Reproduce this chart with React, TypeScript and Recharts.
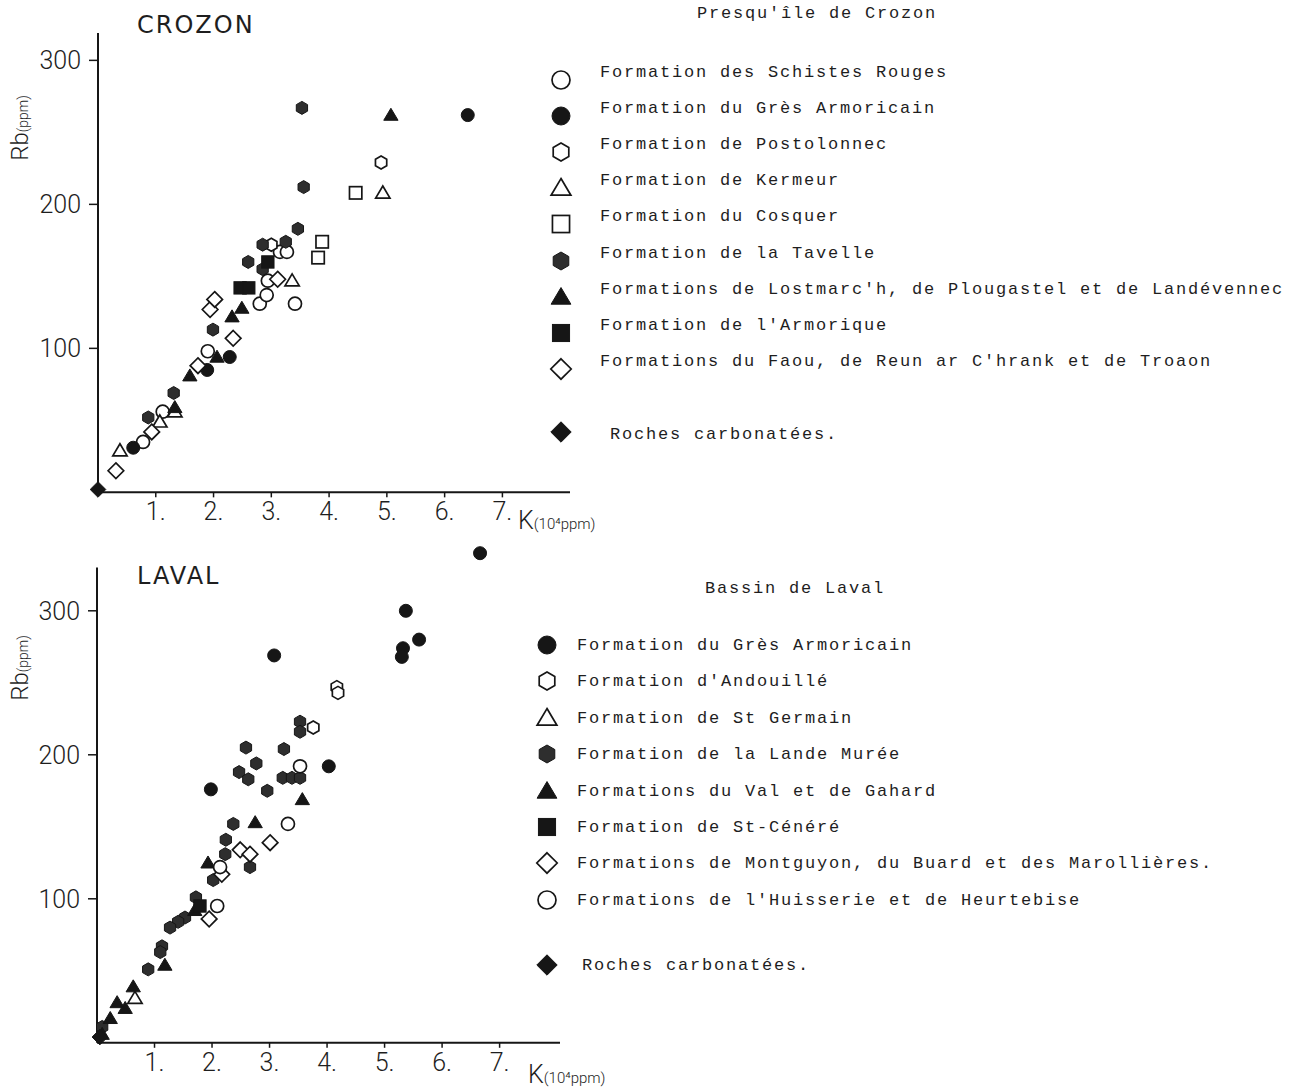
import React from 'react';
import { ScatterChart, Scatter, XAxis, YAxis, ReferenceLine } from 'recharts';

// K (10^4 ppm), Rb (ppm)
const crozonSchistesRouges = [[0.78, 35], [1.12, 56], [1.9, 98], [2.8, 131], [2.92, 137], [2.94, 147], [3.15, 167], [3.27, 167], [3.41, 131]];
const crozonGresArmoricain = [[0.61, 31], [1.89, 85], [2.28, 94], [6.4, 262]];
const crozonPostolonnec = [[3.0, 172], [4.9, 229]];
const crozonKermeur = [[0.38, 29], [1.07, 49], [1.33, 56], [3.36, 147], [4.93, 208]];
const crozonCosquer = [[3.88, 174], [3.81, 163], [4.46, 208]];
const crozonTavelle = [[0.87, 52], [1.31, 69], [1.99, 113], [2.6, 160], [2.85, 172], [2.85, 155], [3.25, 174], [3.46, 183], [3.56, 212], [3.53, 267]];
const crozonLostmarch = [[1.33, 59], [1.59, 81], [2.06, 94], [2.32, 122], [2.49, 128], [5.07, 262]];
const crozonArmorique = [[2.46, 142], [2.61, 142], [2.94, 160]];
const crozonFaou = [[0.31, 15], [0.93, 42], [1.73, 88], [1.94, 127], [2.02, 134], [2.34, 107], [3.11, 148]];
const crozonCarbonate = [[0.0, 2]];

const lavalGresArmoricain = [[3.08, 269], [4.03, 192], [5.37, 300], [5.6, 280], [5.32, 274], [5.3, 268], [6.66, 340], [1.98, 176]];
const lavalAndouille = [[3.76, 219], [4.17, 247], [4.19, 243]];
const lavalStGermain = [[0.66, 31]];
const lavalLandeMuree = [[3.53, 223], [3.53, 216], [2.59, 205], [3.25, 204], [2.77, 194], [2.47, 188], [2.63, 183], [3.23, 184], [3.39, 184], [3.53, 184], [2.96, 175], [2.37, 152], [2.24, 141], [2.23, 131], [2.66, 122], [2.02, 113], [1.72, 101], [1.53, 87], [1.41, 84], [1.27, 80], [1.13, 67], [1.1, 63], [0.89, 51], [0.09, 11]];
const lavalValGahard = [[3.57, 169], [2.75, 153], [1.93, 125], [1.7, 92], [1.18, 54], [0.63, 39], [0.35, 28], [0.49, 24], [0.23, 17], [0.09, 6]];
const lavalStCenere = [[1.79, 95]];
const lavalMontguyon = [[3.01, 139], [2.49, 134], [2.66, 131], [2.17, 117], [1.95, 86]];
const lavalHuisserie = [[3.32, 152], [3.53, 192], [2.14, 122], [2.09, 95]];
const lavalCarbonate = [[0.05, 4]];

const xTicks = [1, 2, 3, 4, 5, 6, 7];
const yTicks = [100, 200, 300];

const crozonLegend = [
  'Formation des Schistes Rouges',
  'Formation du Grès Armoricain',
  'Formation de Postolonnec',
  'Formation de Kermeur',
  'Formation du Cosquer',
  'Formation de la Tavelle',
  "Formations de Lostmarc'h, de Plougastel et de Landévennec",
  "Formation de l'Armorique",
  "Formations du Faou, de Reun ar C'hrank et de Troaon",
  'Roches carbonatées.',
];
const lavalLegend = [
  'Formation du Grès Armoricain',
  "Formation d'Andouillé",
  'Formation de St Germain',
  'Formation de la Lande Murée',
  'Formations du Val et de Gahard',
  'Formation de St-Cénéré',
  'Formations de Montguyon, du Buard et des Marollières.',
  "Formations de l'Huisserie et de Heurtebise",
  'Roches carbonatées.',
];

const INK = '#161616';
const HATCH = '#2e2e2e';

function Marker({ kind, cx, cy, s }: { kind: string; cx: number; cy: number; s: number }) {
  const r = s / 2;
  const open = kind.endsWith('open');
  const fill = open ? '#fff' : kind.startsWith('hex') ? HATCH : INK;
  const common = { fill, stroke: INK, strokeWidth: open ? 1.7 : 1 };
  if (kind.startsWith('circle')) return <circle cx={cx} cy={cy} r={r} {...common} />;
  if (kind.startsWith('hex')) {
    const pts = [0, 60, 120, 180, 240, 300]
      .map((a) => {
        const t = ((a - 90) * Math.PI) / 180;
        return `${cx + r * Math.cos(t)},${cy + r * Math.sin(t)}`;
      })
      .join(' ');
    return <polygon points={pts} {...common} />;
  }
  if (kind.startsWith('tri')) {
    const pts = `${cx},${cy - r * 1.05} ${cx + r * 1.1},${cy + r * 0.8} ${cx - r * 1.1},${cy + r * 0.8}`;
    return <polygon points={pts} {...common} />;
  }
  if (kind.startsWith('sq')) return <rect x={cx - r * 0.95} y={cy - r * 0.95} width={r * 1.9} height={r * 1.9} {...common} />;
  const d = r * 1.2;
  return <polygon points={`${cx},${cy - d} ${cx + d},${cy} ${cx},${cy + d} ${cx - d},${cy}`} {...common} />;
}

const toPts = (arr: number[][]) => arr.map(([k, rb]) => ({ k, rb }));

const crozonSeries = [
  { data: crozonSchistesRouges, kind: 'circle-open' },
  { data: crozonGresArmoricain, kind: 'circle-fill' },
  { data: crozonPostolonnec, kind: 'hex-open' },
  { data: crozonKermeur, kind: 'tri-open' },
  { data: crozonCosquer, kind: 'sq-open' },
  { data: crozonTavelle, kind: 'hex-fill' },
  { data: crozonLostmarch, kind: 'tri-fill' },
  { data: crozonArmorique, kind: 'sq-fill' },
  { data: crozonFaou, kind: 'dia-open' },
  { data: crozonCarbonate, kind: 'dia-fill' },
];
const lavalSeries = [
  { data: lavalGresArmoricain, kind: 'circle-fill' },
  { data: lavalAndouille, kind: 'hex-open' },
  { data: lavalStGermain, kind: 'tri-open' },
  { data: lavalLandeMuree, kind: 'hex-fill' },
  { data: lavalValGahard, kind: 'tri-fill' },
  { data: lavalStCenere, kind: 'sq-fill' },
  { data: lavalMontguyon, kind: 'dia-open' },
  { data: lavalHuisserie, kind: 'circle-open' },
  { data: lavalCarbonate, kind: 'dia-fill' },
];

const tickStyle = { fill: '#1e1e1e', fontSize: 25, fontFamily: 'Roboto, sans-serif', fontWeight: 300 };
const legendFont: React.CSSProperties = {
  position: 'absolute',
  fontFamily: '"Liberation Mono", "DejaVu Sans Mono", monospace',
  fontSize: 17,
  letterSpacing: 1.8,
  color: '#1e1e1e',
  whiteSpace: 'nowrap',
  lineHeight: 1,
  transform: 'translateY(-50%)',
};

function Plot({ series, width, height, top, yLeft, xMax, yMax, yLine }: any) {
  return (
    <ScatterChart width={width} height={height} margin={{ top, right: 15, left: 0, bottom: 0 }}>
      <XAxis
        type="number"
        dataKey="k"
        domain={[0, xMax]}
        ticks={xTicks}
        tickFormatter={(v: number) => `${v}.`}
        height={height - top - (yMax * 1.44)}
        axisLine={{ stroke: INK, strokeWidth: 2 }}
        tickLine={{ stroke: INK, strokeWidth: 1.5 }}
        tickSize={5}
        tickMargin={5}
        tick={tickStyle}
      />
      <YAxis
        type="number"
        dataKey="rb"
        domain={[0, yMax]}
        ticks={yTicks}
        width={yLeft}
        axisLine={yLine ? false : { stroke: INK, strokeWidth: 2 }}
        tickLine={{ stroke: INK, strokeWidth: 1.5 }}
        tickSize={9}
        tickMargin={8}
        tick={tickStyle}
      />
      {yLine && <ReferenceLine segment={[{ x: 0, y: 0 }, { x: 0, y: yLine }]} stroke={INK} strokeWidth={2} />}
      {series.map((s: any, i: number) => (
        <Scatter
          key={i}
          data={toPts(s.data)}
          isAnimationActive={false}
          shape={(p: any) => <Marker kind={s.kind} cx={p.cx} cy={p.cy} s={13} />}
        />
      ))}
    </ScatterChart>
  );
}

function LegendIcon({ kind, x, y }: { kind: string; x: number; y: number }) {
  return (
    <svg style={{ position: 'absolute', left: x - 14, top: y - 14 }} width={28} height={28}>
      <Marker kind={kind} cx={14} cy={14} s={kind.startsWith('dia') ? 17 : 18} />
    </svg>
  );
}

function AxisTitles({ rbY, kX, kY }: { rbY: number; kX: number; kY: number }) {
  return (
    <>
      <div
        style={{
          position: 'absolute',
          left: 20,
          top: rbY,
          transform: 'translate(-50%, -50%) rotate(-90deg)',
          whiteSpace: 'nowrap',
          fontFamily: 'Roboto, sans-serif',
          fontWeight: 300,
          color: '#1e1e1e',
        }}
      >
        <span style={{ fontSize: 24 }}>Rb</span>
        <span style={{ fontSize: 14 }}>(ppm)</span>
      </div>
      <div style={{ position: 'absolute', left: kX, top: kY, whiteSpace: 'nowrap', lineHeight: 1, fontFamily: 'Roboto, sans-serif', fontWeight: 300, color: '#1e1e1e' }}>
        <span style={{ fontSize: 25 }}>K</span>
        <span style={{ fontSize: 15 }}>(10⁴ppm)</span>
      </div>
    </>
  );
}

export default function App() {
  const titleStyle: React.CSSProperties = {
    position: 'absolute',
    fontFamily: '"DejaVu Sans", sans-serif',
    fontSize: 24,
    letterSpacing: 2,
    color: '#1e1e1e',
    lineHeight: 1,
  };
  return (
    <div style={{ position: 'absolute', left: 0, top: 0, width: 1306, height: 1089, background: '#fff', overflow: 'hidden' }}>
      <div style={{ position: 'absolute', left: 0, top: 0 }}>
        <Plot series={crozonSeries} width={585} height={540} top={33} yLeft={98} xMax={8.17} yMax={319} />
      </div>
      <div style={{ position: 'absolute', left: 0, top: 536 }}>
        <Plot series={lavalSeries} width={575} height={552} top={10} yLeft={97} xMax={8.05} yMax={345} yLine={330} />
      </div>

      <div style={{ ...titleStyle, left: 137, top: 13 }}>CROZON</div>
      <div style={{ ...titleStyle, left: 137, top: 564 }}>LAVAL</div>
      <AxisTitles rbY={128} kX={518} kY={508} />
      <AxisTitles rbY={668} kX={528} kY={1062} />

      <div style={{ ...legendFont, left: 697, top: 13 }}>Presqu'île de Crozon</div>
      {crozonLegend.map((label, i) => {
        const y = i < 9 ? 72 + i * 36.1 : 434;
        return (
          <React.Fragment key={label}>
            <LegendIcon kind={crozonSeries[i].kind} x={561} y={i < 9 ? y + 8 : y - 2} />
            <div style={{ ...legendFont, left: i === 9 ? 610 : 600, top: y }}>{label}</div>
          </React.Fragment>
        );
      })}

      <div style={{ ...legendFont, left: 705, top: 588 }}>Bassin de Laval</div>
      {lavalLegend.map((label, i) => {
        const y = i < 8 ? 645 + i * 36.4 : 965;
        return (
          <React.Fragment key={label}>
            <LegendIcon kind={lavalSeries[i].kind} x={547} y={y} />
            <div style={{ ...legendFont, left: i === 8 ? 582 : 577, top: y }}>{label}</div>
          </React.Fragment>
        );
      })}
    </div>
  );
}
